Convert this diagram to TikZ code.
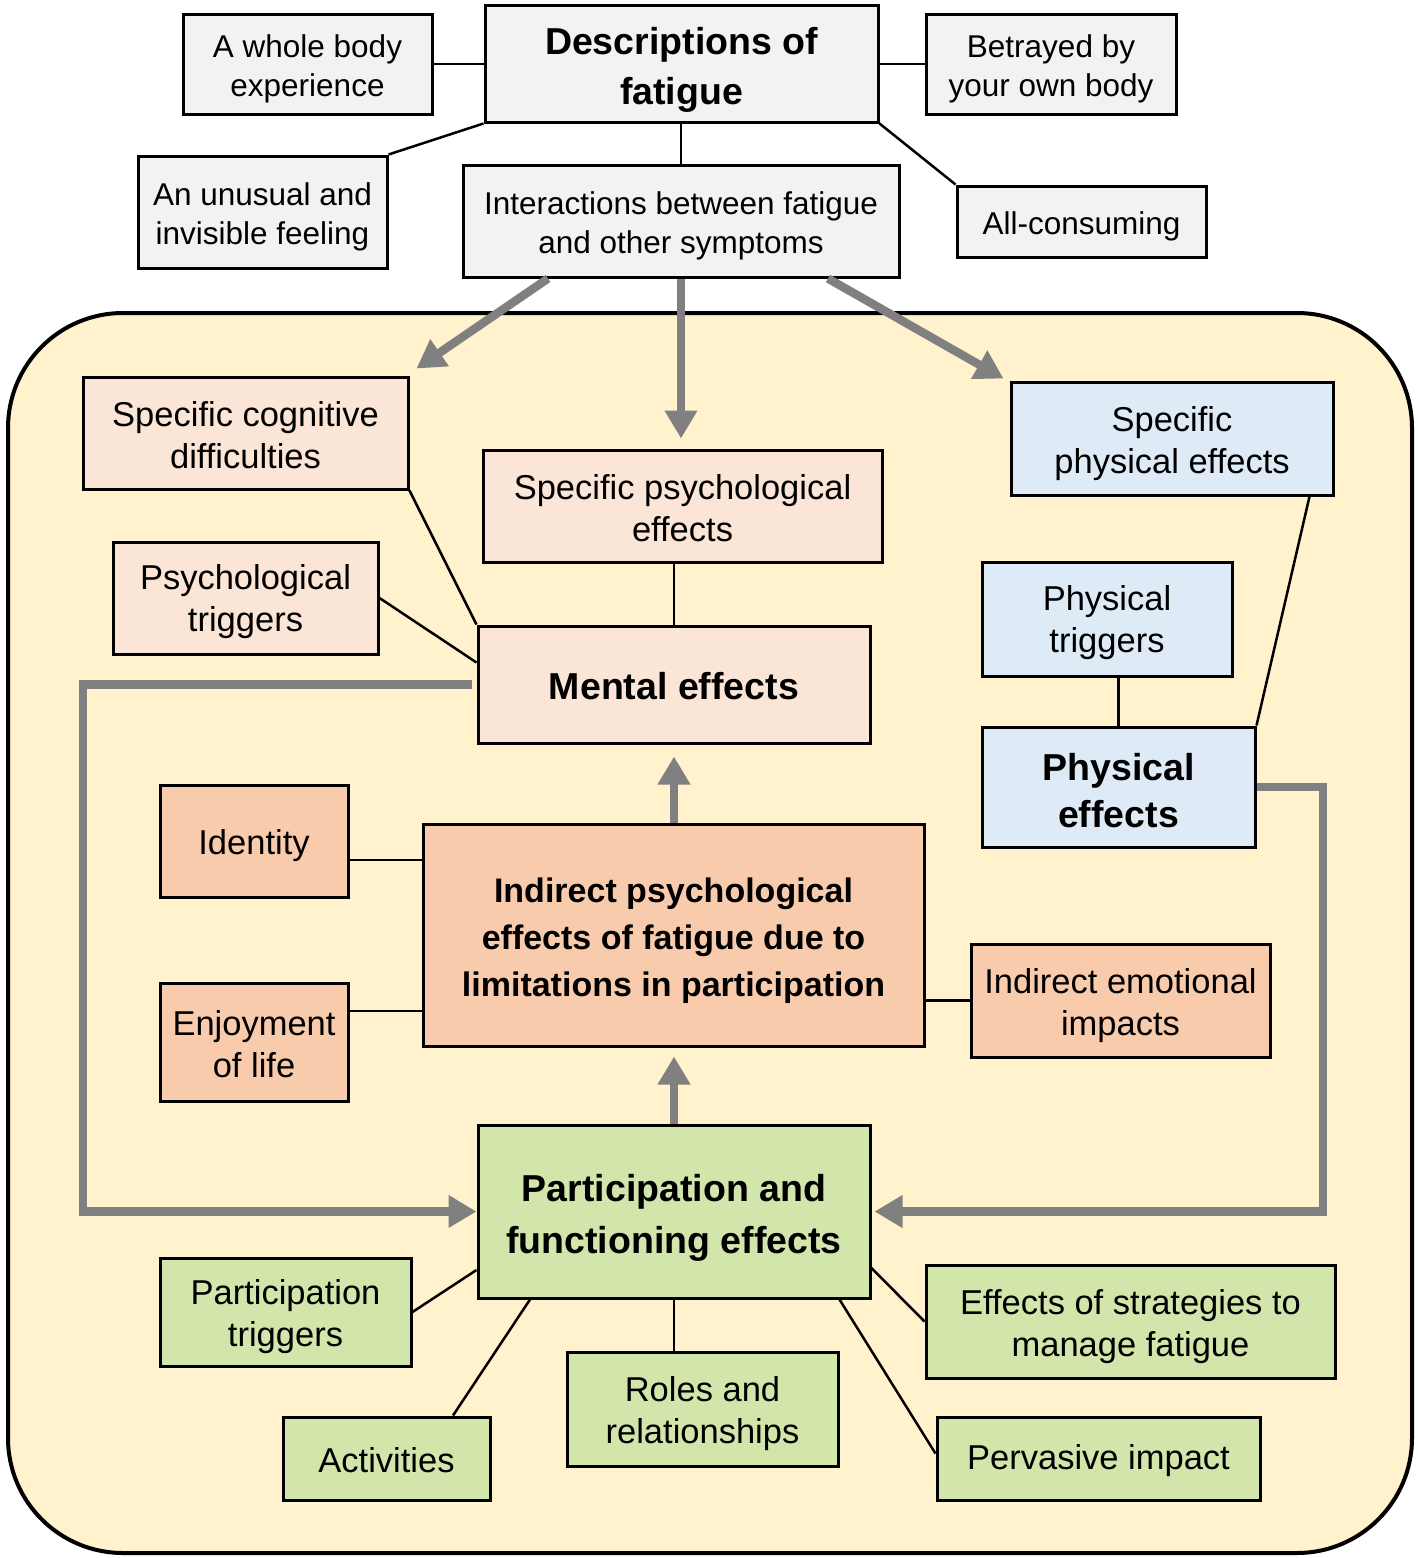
\documentclass[tikz,border=0pt]{standalone}
\usepackage{fontspec}
\setmainfont{Liberation Sans}
\usetikzlibrary{arrows.meta,calc}
\definecolor{topgray}{HTML}{F2F2F2}
\definecolor{bgyellow}{HTML}{FFF2CC}
\definecolor{pinklight}{HTML}{FBE5D6}
\definecolor{salmon}{HTML}{F8CBAD}
\definecolor{bluelight}{HTML}{DEEBF7}
\definecolor{greenlight}{HTML}{D2E5AA}
\definecolor{arrowgray}{HTML}{808080}
\begin{document}
\begin{tikzpicture}[x=1pt,y=-1pt,
  box/.style={draw=black, line width=3pt, inner sep=0pt},
  txt/.style={align=center, inner sep=0pt, text=black},
  topfont/.style={txt, font=\fontsize{31.5}{39}\selectfont, yshift=-5pt},
  infont/.style={txt, font=\fontsize{34.5}{42}\selectfont, yshift=-2pt},
  boldfont/.style={txt, font=\bfseries\fontsize{37.5}{50}\selectfont},
  link/.style={draw=black, line width=2.5pt},
  garrow/.style={draw=arrowgray, line width=8.5pt, line join=miter, -{Triangle[length=28pt,width=31pt]}}
]
\useasboundingbox (0,0) rectangle (1418,1558);
\fill[white] (0,0) rectangle (1418,1558);

% background panel
\draw[line width=4pt, fill=bgyellow, rounded corners=115pt] (8,313) rectangle (1412,1553);

% top boxes
\node[box, fill=topgray, minimum width=249pt, minimum height=100pt,
  label={[topfont]center:{A whole body\\experience}}] (whole) at (307.5,64) {};
\node[box, fill=topgray, minimum width=393pt, minimum height=117pt,
  label={[boldfont, yshift=-6pt]center:{Descriptions of\\fatigue}}] (desc) at (681.5,63.5) {};
\node[box, fill=topgray, minimum width=250pt, minimum height=100pt,
  label={[topfont]center:{Betrayed by\\your own body}}] (betray) at (1051,64) {};
\node[box, fill=topgray, minimum width=249pt, minimum height=112pt,
  label={[topfont]center:{An unusual and\\invisible feeling}}] (unusual) at (262.5,212) {};
\node[box, fill=topgray, minimum width=436pt, minimum height=112pt,
  label={[topfont]center:{Interactions between fatigue\\and other symptoms}}] (interact) at (681,221) {};
\node[box, fill=topgray, minimum width=249pt, minimum height=71pt,
  label={[topfont]center:{All-consuming}}] (allcons) at (1081.5,221.5) {};

% inner boxes
\node[box, fill=pinklight, minimum width=325pt, minimum height=112pt,
  label={[infont]center:{Specific cognitive\\difficulties}}] (cog) at (245.5,433) {};
\node[box, fill=pinklight, minimum width=399pt, minimum height=112pt,
  label={[infont]center:{Specific psychological\\effects}}] (specpsy) at (682.5,506) {};
\node[box, fill=bluelight, minimum width=322pt, minimum height=113pt,
  label={[infont, yshift=-3pt]center:{Specific\\physical effects}}] (specphys) at (1172,438.5) {};
\node[box, fill=pinklight, minimum width=265pt, minimum height=112pt,
  label={[infont, yshift=-2pt]center:{Psychological\\triggers}}] (psytrig) at (245.5,598) {};
\node[box, fill=pinklight, minimum width=392pt, minimum height=117pt,
  label={[boldfont, yshift=-2pt]center:{Mental effects}}] (mental) at (674,684.5) {};
\node[box, fill=bluelight, minimum width=250pt, minimum height=114pt,
  label={[infont, yshift=-2pt]center:{Physical\\triggers}}] (phystrig) at (1107,619) {};
\node[box, fill=bluelight, minimum width=273pt, minimum height=120pt,
  label={[boldfont, font=\bfseries\fontsize{37.5}{47}\selectfont, yshift=-4pt]center:{Physical\\effects}}] (physeff) at (1118.5,787) {};
\node[box, fill=salmon, minimum width=188pt, minimum height=112pt,
  label={[infont, yshift=-3pt]center:{Identity}}] (identity) at (254,841) {};
\node[box, fill=salmon, minimum width=501pt, minimum height=222pt,
  label={[boldfont, font=\bfseries\fontsize{34}{47}\selectfont, yshift=-6pt]center:{Indirect psychological\\effects of fatigue due to\\limitations in participation}}] (indirect) at (673.5,935) {};
\node[box, fill=salmon, minimum width=188pt, minimum height=118pt,
  label={[infont]center:{Enjoyment\\of life}}] (enjoy) at (254,1042) {};
\node[box, fill=salmon, minimum width=299pt, minimum height=113pt,
  label={[infont, yshift=-3pt]center:{Indirect emotional\\impacts}}] (indemo) at (1120.5,1000.5) {};
\node[box, fill=greenlight, minimum width=392pt, minimum height=173pt,
  label={[boldfont, font=\bfseries\fontsize{37.5}{52}\selectfont, yshift=-6pt]center:{Participation and\\functioning effects}}] (part) at (674,1211.5) {};
\node[box, fill=greenlight, minimum width=251pt, minimum height=108pt,
  label={[infont, yshift=-3pt]center:{Participation\\triggers}}] (parttrig) at (285.5,1312) {};
\node[box, fill=greenlight, minimum width=409pt, minimum height=113pt,
  label={[infont, yshift=-3pt]center:{Effects of strategies to\\manage fatigue}}] (strat) at (1130.5,1321.5) {};
\node[box, fill=greenlight, minimum width=271pt, minimum height=114pt,
  label={[infont, yshift=-3pt]center:{Roles and\\relationships}}] (roles) at (702.5,1409) {};
\node[box, fill=greenlight, minimum width=207pt, minimum height=83pt,
  label={[infont]center:{Activities}}] (activ) at (386.5,1458.5) {};
\node[box, fill=greenlight, minimum width=323pt, minimum height=83pt,
  label={[infont]center:{Pervasive impact}}] (pervas) at (1098.5,1458.5) {};

% top connectors
\draw[link] (whole.east) -- (whole.east -| desc.west);
\draw[link] (desc.east |- betray.west) -- (betray.west);
\draw[link] (desc.south west) -- (unusual.north east);
\draw[link] (desc.south -| interact.north) -- (interact.north);
\draw[link] (desc.south east) -- (allcons.north west);

% inner black connectors
\draw[link] (cog.south east) -- (mental.north west);
\draw[link] (psytrig.east) -- ([yshift=22pt]mental.west);
\draw[link] (specpsy.south -| mental.north) -- (mental.north);
\draw[link] (phystrig.south -| physeff.north) -- (physeff.north);
\draw[link] ([xshift=-25pt]specphys.south east) -- (physeff.north east);
\coordinate (idc) at ([yshift=-19pt]identity.east);
\draw[link] (idc) -- (idc -| indirect.west);
\coordinate (enc) at ([yshift=31pt]enjoy.east);
\draw[link] (enc) -- (enc -| indirect.west);
\draw[link] (indemo.west -| indirect.east) -- (indemo.west);
\draw[link] (parttrig.east) -- ([yshift=-58.5pt]part.west);
\draw[link] ([xshift=66.5pt]activ.north) -- ([xshift=-144pt]part.south);
\draw[link] (part.south) -- (part.south |- roles.north);
\draw[link] (strat.west) -- ([yshift=-56.5pt]part.east);
\draw[link] ([yshift=5pt]pervas.west) -- ([xshift=-32pt]part.south east);

% gray arrows
\draw[garrow] ([xshift=-133pt]interact.south) -- ([shift={(7,-7)}]cog.north east);
\draw[garrow] (interact.south) -- ([yshift=10pt]interact.south |- specpsy.north);
\draw[garrow] ([xshift=147pt]interact.south) -- ([shift={(-6,-2)}]specphys.north west);
\draw[garrow] (indirect.north -| mental.south) -- ([yshift=-12pt]mental.south);
\draw[garrow] (part.north) -- ([yshift=-9pt]part.north |- indirect.south);
\coordinate (lloop) at (83,700);
\coordinate (rloop) at (1323,800);
\draw[garrow] ([xshift=-5pt]mental.west) -- (mental.west -| lloop) |- (part.west);
\draw[garrow] (physeff.east) -- (physeff.east -| rloop) |- ([xshift=3pt]part.east);
\end{tikzpicture}
\end{document}
